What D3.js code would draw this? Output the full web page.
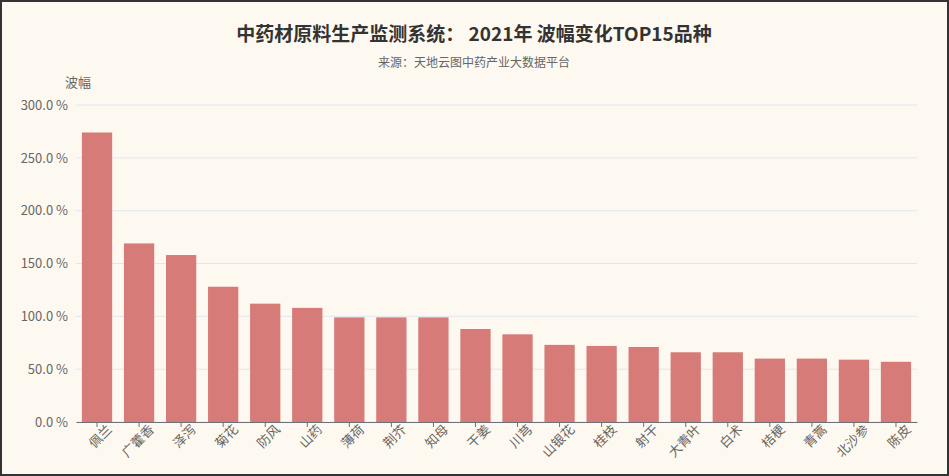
<!DOCTYPE html>
<html><head><meta charset="utf-8">
<script src="https://cdn.jsdelivr.net/npm/d3@7"></script>
<style>body{margin:0;background:#fff}svg{display:block}</style>
</head><body>
<svg id="c" width="949" height="476"></svg>
<script>
const categories=["佩兰","广藿香","泽泻","菊花","防风","山药","薄荷","荆芥","知母","干姜","川芎","山银花","桂枝","射干","大青叶","白术","桔梗","青蒿","北沙参","陈皮"];
const values=[274,169,158,128,112,108,99,99,99,88,83,73,72,71,66,66,60,60,59,57];
const yTicks=[0,50,100,150,200,250,300];
const svg=d3.select("#c");
const font="'Noto Sans CJK SC','Microsoft YaHei',sans-serif";
svg.append("rect").attr("x",1).attr("y",1).attr("width",947).attr("height",474).attr("fill","#fef9f0").attr("stroke","#333").attr("stroke-width",2);
const x=d3.scaleBand().domain(categories).range([76,917]).paddingInner(0.28).paddingOuter(0.14);
const y=d3.scaleLinear().domain([0,300]).range([422,105]);
const g=svg.append("g");
g.selectAll("line.grid").data(yTicks).join("line").attr("x1",76).attr("x2",917).attr("y1",d=>y(d)).attr("y2",d=>y(d)).attr("stroke","#e0e6f1");
g.selectAll("rect.bar").data(values).join("rect").attr("x",(d,i)=>x(categories[i])).attr("width",x.bandwidth()).attr("y",d=>y(d)).attr("height",d=>422-y(d)).attr("fill","#d67b78");
const ya=svg.append("g").attr("transform","translate(76,0)").call(d3.axisLeft(y).tickValues(yTicks).tickFormat(d=>d.toFixed(1)+" %").tickSize(0).tickPadding(8));
ya.select(".domain").remove();
ya.selectAll("text").attr("font-family",font).attr("font-size",13).attr("fill","#666");
const xa=svg.append("g").attr("transform","translate(0,422)").call(d3.axisBottom(x).tickSize(5).tickSizeOuter(0));
xa.select(".domain").attr("stroke","#6e7079");xa.selectAll("line").attr("stroke","#6e7079");
xa.selectAll("text").attr("font-family",font).attr("font-size",13).attr("fill","#666").attr("text-anchor","end").attr("dx","0.4em").attr("dy","0.7em").attr("transform","rotate(-45)");
svg.append("text").attr("x",474).attr("y",41).attr("text-anchor","middle").attr("font-family",font).attr("font-size",19).attr("font-weight","bold").attr("fill","#333").text("中药材原料生产监测系统： 2021年 波幅变化TOP15品种");
svg.append("text").attr("x",474).attr("y",67).attr("text-anchor","middle").attr("font-family",font).attr("font-size",12).attr("fill","#666").text("来源：天地云图中药产业大数据平台");
svg.append("text").attr("x",78).attr("y",87).attr("text-anchor","middle").attr("font-family",font).attr("font-size",13).attr("fill","#666").text("波幅");
</script></body></html>
